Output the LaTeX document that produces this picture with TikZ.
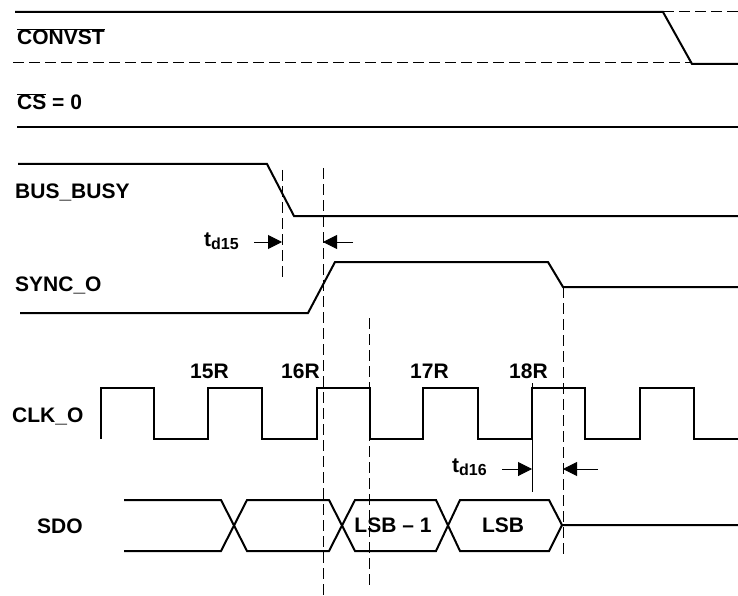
\documentclass[tikz,border=0pt]{standalone}
\usepackage{fontspec}
\setmainfont{Liberation Sans}
\usetikzlibrary{arrows.meta}
\begin{document}
\begin{tikzpicture}[x=1pt,y=-1pt,
  sig/.style={line width=2pt, line join=miter},
  thin/.style={line width=1pt},
  guide/.style={line width=1pt, dash pattern=on 11pt off 5pt},
  lbl/.style={inner sep=0pt, anchor=base west, font=\fontsize{21}{25}\selectfont\bfseries},
  mid/.style={inner sep=0pt, anchor=base, font=\fontsize{21}{25}\selectfont\bfseries},
  dim/.style={line width=1pt, -{Triangle[length=14pt,width=14pt]}}]
\useasboundingbox (0,0) rectangle (738,596);

% signal labels
\node[lbl] (convst) at (17,45) {$\overline{\mbox{CONVST}}$};
\node[lbl] (cs) at (17,110) {$\overline{\mbox{CS}}$ = 0};
\node[lbl] (busy) at (15,198) {BUS\_BUSY};
\node[lbl] (sync) at (15,291) {SYNC\_O};
\node[lbl] (clk) at (12,422) {CLK\_O};
\node[lbl] (sdo) at (37,533) {SDO};

% clock edge labels
\node[lbl] (r15) at (190,378) {15R};
\node[lbl] (r16) at (281,378) {16R};
\node[lbl] (r17) at (410,378) {17R};
\node[lbl] (r18) at (509,378) {18R};

% timing labels
\node[lbl] (td15) at (204,246) {t\raisebox{-3.5pt}{\fontsize{16}{18}\selectfont d15}};
\node[lbl] (td16) at (452,472) {t\raisebox{-3.5pt}{\fontsize{16}{18}\selectfont d16}};

% data labels
\node[mid] (lsbm) at (393,532) {LSB – 1};
\node[mid] (lsb) at (503,532) {LSB};

% CONVST
\draw[sig] (15,12) -- (663,12) -- (692,64) -- (738,64);
\draw[guide] (663,12) -- (738,12);
\draw[guide] (13,63) -- (692,63);

% CS
\draw[sig] (17,127) -- (738,127);

% BUS_BUSY
\draw[sig] (18,164) -- (267,164) -- (294,216) -- (738,216);

% SYNC_O
\draw[sig] (20,313) -- (308,313) -- (335,262) -- (548,262) -- (563,287) -- (738,287);

% CLK_O
\draw[sig] (101,439) -- (101,388) -- (154,388) -- (154,439) -- (208,439) -- (208,388)
  -- (262,388) -- (262,439) -- (317,439) -- (317,388) -- (370,388) -- (370,439)
  -- (423,439) -- (423,388) -- (478,388) -- (478,439) -- (532,439) -- (532,388)
  -- (585,388) -- (585,439) -- (640,439) -- (640,388) -- (694,388) -- (694,439) -- (738,439);

% SDO
\draw[sig] (124,500) -- (221,500) -- (247,551) -- (329,551) -- (355,500) -- (436,500)
  -- (460,551) -- (549,551) -- (562,525) -- (738,525);
\draw[sig] (124,551) -- (221,551) -- (247,500) -- (329,500) -- (355,551) -- (436,551)
  -- (460,500) -- (549,500) -- (562,525);

% guide lines
\coordinate (g1t) at (282,170); \coordinate (g1b) at (282,278);
\coordinate (g2t) at (323,168); \coordinate (g2b) at (323,596);
\coordinate (g3t) at (369,318); \coordinate (g3b) at (369,590);
\coordinate (g4t) at (563,287); \coordinate (g4b) at (563,555);
\coordinate (g5t) at (532,383); \coordinate (g5b) at (532,492);
\draw[guide] (g1t) -- (g1b);
\draw[guide] (g2t) -- (g2b);
\draw[guide] (g3t) -- (g3b);
\draw[guide] (g4t) -- (g4b);
\draw[thin] (g5t) -- (g5b);

% timing arrows
\coordinate (a1s) at (254,242); \coordinate (a1e) at (282,242);
\coordinate (a2s) at (353,242); \coordinate (a2e) at (323,242);
\coordinate (a3s) at (502,469); \coordinate (a3e) at (532,469);
\coordinate (a4s) at (598,469); \coordinate (a4e) at (563,469);
\draw[dim] (a1s) -- (a1e);
\draw[dim] (a2s) -- (a2e);
\draw[dim] (a3s) -- (a3e);
\draw[dim] (a4s) -- (a4e);
\end{tikzpicture}
\end{document}
